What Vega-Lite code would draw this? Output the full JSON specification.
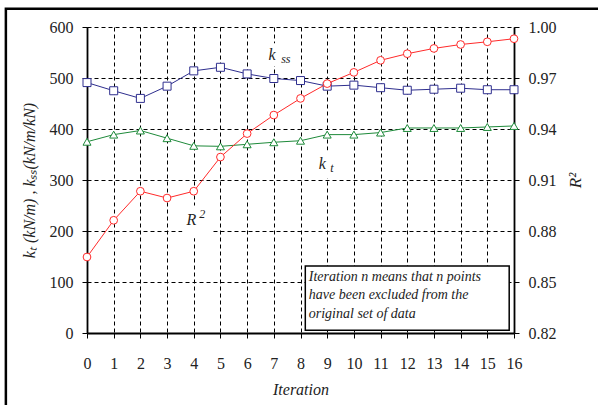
{
  "$schema": "https://vega.github.io/schema/vega-lite/v6.json",
  "width": 427,
  "height": 306,
  "autosize": "none",
  "padding": {"left": 87, "top": 27, "right": 84, "bottom": 72},
  "background": "white",
  "config": {
    "view": {"stroke": null},
    "font": "Liberation Serif, Times New Roman, serif",
    "axis": {
      "labelFont": "Liberation Serif, Times New Roman, serif",
      "labelFontSize": 16,
      "labelColor": "#222",
      "titleFont": "Liberation Serif, Times New Roman, serif",
      "titleFontSize": 16,
      "titleFontStyle": "italic",
      "titleFontWeight": "normal",
      "titleColor": "#222",
      "domainColor": "black",
      "domainWidth": 1.8,
      "tickColor": "black",
      "tickSize": 5,
      "tickWidth": 1,
      "gridColor": "black",
      "gridDash": [4, 3],
      "gridWidth": 1,
      "gridOpacity": 1
    }
  },
  "datasets": {
    "k": [
      {"iteration": 0, "series": "kss", "value": 491},
      {"iteration": 1, "series": "kss", "value": 475},
      {"iteration": 2, "series": "kss", "value": 460},
      {"iteration": 3, "series": "kss", "value": 484},
      {"iteration": 4, "series": "kss", "value": 514},
      {"iteration": 5, "series": "kss", "value": 521},
      {"iteration": 6, "series": "kss", "value": 508},
      {"iteration": 7, "series": "kss", "value": 499},
      {"iteration": 8, "series": "kss", "value": 495},
      {"iteration": 9, "series": "kss", "value": 484},
      {"iteration": 10, "series": "kss", "value": 486},
      {"iteration": 11, "series": "kss", "value": 481},
      {"iteration": 12, "series": "kss", "value": 476},
      {"iteration": 13, "series": "kss", "value": 478},
      {"iteration": 14, "series": "kss", "value": 480},
      {"iteration": 15, "series": "kss", "value": 477},
      {"iteration": 16, "series": "kss", "value": 477},
      {"iteration": 0, "series": "kt", "value": 375},
      {"iteration": 1, "series": "kt", "value": 389},
      {"iteration": 2, "series": "kt", "value": 397},
      {"iteration": 3, "series": "kt", "value": 382},
      {"iteration": 4, "series": "kt", "value": 367},
      {"iteration": 5, "series": "kt", "value": 366},
      {"iteration": 6, "series": "kt", "value": 370},
      {"iteration": 7, "series": "kt", "value": 374},
      {"iteration": 8, "series": "kt", "value": 377},
      {"iteration": 9, "series": "kt", "value": 389},
      {"iteration": 10, "series": "kt", "value": 389},
      {"iteration": 11, "series": "kt", "value": 393},
      {"iteration": 12, "series": "kt", "value": 402},
      {"iteration": 13, "series": "kt", "value": 402},
      {"iteration": 14, "series": "kt", "value": 402},
      {"iteration": 15, "series": "kt", "value": 404},
      {"iteration": 16, "series": "kt", "value": 406}
    ],
    "r2": [
      {"iteration": 0, "r2": 0.8647},
      {"iteration": 1, "r2": 0.8863},
      {"iteration": 2, "r2": 0.9034},
      {"iteration": 3, "r2": 0.8994},
      {"iteration": 4, "r2": 0.9034},
      {"iteration": 5, "r2": 0.9235},
      {"iteration": 6, "r2": 0.9373},
      {"iteration": 7, "r2": 0.9482},
      {"iteration": 8, "r2": 0.958},
      {"iteration": 9, "r2": 0.9667},
      {"iteration": 10, "r2": 0.9733},
      {"iteration": 11, "r2": 0.9804},
      {"iteration": 12, "r2": 0.9843},
      {"iteration": 13, "r2": 0.9874},
      {"iteration": 14, "r2": 0.9897},
      {"iteration": 15, "r2": 0.9913},
      {"iteration": 16, "r2": 0.9931}
    ],
    "blank": [
      {"x1": 6.57, "x2": 7.8, "y1": 523, "y2": 568},
      {"x1": 8.52, "x2": 9.42, "y1": 303, "y2": 358},
      {"x1": 3.57, "x2": 4.66, "y1": 186, "y2": 250}
    ],
    "labels": [
      {"x": 6.93, "y": 546, "t": "k", "s": 16},
      {"x": 7.45, "y": 538, "t": "ss", "s": 12},
      {"x": 8.82, "y": 332, "t": "k", "s": 16},
      {"x": 9.18, "y": 324, "t": "t", "s": 12},
      {"x": 3.91, "y": 221, "t": "R", "s": 16},
      {"x": 4.32, "y": 233, "t": "2", "s": 12}
    ],
    "box": [{"x1": 8.18, "x2": 15.82, "y1": 5.3, "y2": 131.4}],
    "note": [{"x": 8.31, "y": 124, "t": "Iteration n means that n points\nhave been excluded from the\noriginal set of data"}],
    "frame": [{"x1": -3.04, "x2": 21, "y1": -170, "y2": 636}]
  },
  "layer": [
    {
      "layer": [
        {
          "data": {"name": "k"},
          "mark": {"type": "line", "strokeWidth": 1},
          "encoding": {
            "x": {
              "field": "iteration", "type": "quantitative",
              "scale": {"domain": [0, 16], "nice": false},
              "axis": {"title": "Iteration", "values": [0,1,2,3,4,5,6,7,8,9,10,11,12,13,14,15,16], "grid": true, "labelPadding": 17, "titlePadding": 10, "labelFlush": false}
            },
            "y": {
              "field": "value", "type": "quantitative",
              "scale": {"domain": [0, 600], "nice": false},
              "axis": {"title": "kₜ (kN/m) , kₛₛ(kN/m/kN)", "values": [0,100,200,300,400,500,600], "grid": true, "labelPadding": 9, "titlePadding": 12, "labelFlush": false}
            },
            "color": {"field": "series", "type": "nominal", "scale": {"domain": ["kss", "kt"], "range": ["#2e2e8e", "#1e8a3a"]}, "legend": null}
          }
        },
        {
          "data": {"name": "frame"},
          "mark": {"type": "rect", "fill": null, "stroke": "black", "strokeWidth": 2.5, "clip": false},
          "encoding": {
            "x": {"field": "x1", "type": "quantitative", "scale": {"domain": [0, 16], "nice": false}, "axis": {"title": "Iteration", "values": [0,1,2,3,4,5,6,7,8,9,10,11,12,13,14,15,16], "grid": true, "labelPadding": 17, "titlePadding": 10, "labelFlush": false}},
            "x2": {"field": "x2"},
            "y": {"field": "y1", "type": "quantitative", "scale": {"domain": [0, 600], "nice": false}, "axis": {"title": "kₜ (kN/m) , kₛₛ(kN/m/kN)", "values": [0,100,200,300,400,500,600], "grid": true, "labelPadding": 9, "titlePadding": 12, "labelFlush": false}},
            "y2": {"field": "y2"}
          }
        },
        {
          "data": {"name": "blank"},
          "mark": {"type": "rect", "fill": "white", "stroke": null},
          "encoding": {
            "x": {"field": "x1", "type": "quantitative", "scale": {"domain": [0, 16], "nice": false}, "axis": {"title": "Iteration", "values": [0,1,2,3,4,5,6,7,8,9,10,11,12,13,14,15,16], "grid": true, "labelPadding": 17, "titlePadding": 10, "labelFlush": false}},
            "x2": {"field": "x2"},
            "y": {"field": "y1", "type": "quantitative", "scale": {"domain": [0, 600], "nice": false}, "axis": {"title": "kₜ (kN/m) , kₛₛ(kN/m/kN)", "values": [0,100,200,300,400,500,600], "grid": true, "labelPadding": 9, "titlePadding": 12, "labelFlush": false}},
            "y2": {"field": "y2"}
          }
        },
        {
          "data": {"name": "k"},
          "mark": {"type": "point", "filled": true, "fill": "white", "strokeWidth": 1, "opacity": 1, "size": 64},
          "encoding": {
            "x": {"field": "iteration", "type": "quantitative", "scale": {"domain": [0, 16], "nice": false}, "axis": {"title": "Iteration", "values": [0,1,2,3,4,5,6,7,8,9,10,11,12,13,14,15,16], "grid": true, "labelPadding": 17, "titlePadding": 10, "labelFlush": false}},
            "y": {"field": "value", "type": "quantitative", "scale": {"domain": [0, 600], "nice": false}, "axis": {"title": "kₜ (kN/m) , kₛₛ(kN/m/kN)", "values": [0,100,200,300,400,500,600], "grid": true, "labelPadding": 9, "titlePadding": 12, "labelFlush": false}},
            "stroke": {"field": "series", "type": "nominal", "scale": {"domain": ["kss", "kt"], "range": ["#2e2e8e", "#1e8a3a"]}, "legend": null},
            "shape": {"field": "series", "type": "nominal", "scale": {"domain": ["kss", "kt"], "range": ["square", "triangle-up"]}, "legend": null}
          }
        },
        {
          "data": {"name": "labels"},
          "mark": {"type": "text", "fontStyle": "italic", "font": "Liberation Serif, Times New Roman, serif", "color": "#222", "align": "center", "baseline": "middle"},
          "encoding": {
            "x": {"field": "x", "type": "quantitative", "scale": {"domain": [0, 16], "nice": false}, "axis": {"title": "Iteration", "values": [0,1,2,3,4,5,6,7,8,9,10,11,12,13,14,15,16], "grid": true, "labelPadding": 17, "titlePadding": 10, "labelFlush": false}},
            "y": {"field": "y", "type": "quantitative", "scale": {"domain": [0, 600], "nice": false}, "axis": {"title": "kₜ (kN/m) , kₛₛ(kN/m/kN)", "values": [0,100,200,300,400,500,600], "grid": true, "labelPadding": 9, "titlePadding": 12, "labelFlush": false}},
            "text": {"field": "t"},
            "size": {"field": "s", "type": "quantitative", "scale": null, "legend": null}
          }
        },
        {
          "data": {"name": "box"},
          "mark": {"type": "rect", "fill": "white", "stroke": "black", "strokeWidth": 1.5},
          "encoding": {
            "x": {"field": "x1", "type": "quantitative", "scale": {"domain": [0, 16], "nice": false}, "axis": {"title": "Iteration", "values": [0,1,2,3,4,5,6,7,8,9,10,11,12,13,14,15,16], "grid": true, "labelPadding": 17, "titlePadding": 10, "labelFlush": false}},
            "x2": {"field": "x2"},
            "y": {"field": "y1", "type": "quantitative", "scale": {"domain": [0, 600], "nice": false}, "axis": {"title": "kₜ (kN/m) , kₛₛ(kN/m/kN)", "values": [0,100,200,300,400,500,600], "grid": true, "labelPadding": 9, "titlePadding": 12, "labelFlush": false}},
            "y2": {"field": "y2"}
          }
        },
        {
          "data": {"name": "note"},
          "mark": {"type": "text", "fontStyle": "italic", "font": "Liberation Serif, Times New Roman, serif", "fontSize": 14, "color": "#222", "align": "left", "baseline": "top", "lineBreak": "\n", "lineHeight": 18.5},
          "encoding": {
            "x": {"field": "x", "type": "quantitative", "scale": {"domain": [0, 16], "nice": false}, "axis": {"title": "Iteration", "values": [0,1,2,3,4,5,6,7,8,9,10,11,12,13,14,15,16], "grid": true, "labelPadding": 17, "titlePadding": 10, "labelFlush": false}},
            "y": {"field": "y", "type": "quantitative", "scale": {"domain": [0, 600], "nice": false}, "axis": {"title": "kₜ (kN/m) , kₛₛ(kN/m/kN)", "values": [0,100,200,300,400,500,600], "grid": true, "labelPadding": 9, "titlePadding": 12, "labelFlush": false}},
            "text": {"field": "t"}
          }
        }
      ]
    },
    {
      "data": {"name": "r2"},
      "layer": [
        {"mark": {"type": "line", "color": "#ff2a2a", "strokeWidth": 1}},
        {"mark": {"type": "point", "shape": "circle", "filled": true, "fill": "white", "stroke": "#ff2a2a", "strokeWidth": 1, "opacity": 1, "size": 60}}
      ],
      "encoding": {
        "x": {"field": "iteration", "type": "quantitative", "scale": {"domain": [0, 16], "nice": false}, "axis": {"title": "Iteration", "values": [0,1,2,3,4,5,6,7,8,9,10,11,12,13,14,15,16], "grid": true, "labelPadding": 17, "titlePadding": 10, "labelFlush": false}},
        "y": {
          "field": "r2", "type": "quantitative",
          "scale": {"domain": [0.82, 1.0], "nice": false, "zero": false},
          "axis": {"orient": "right", "title": "R²", "titleAngle": 270, "titleFontSize": 17, "values": [0.82,0.85,0.88,0.91,0.94,0.97,1.0], "format": ".2f", "grid": false, "labelPadding": 9, "titlePadding": 28, "labelFlush": false}
        }
      }
    }
  ],
  "resolve": {"scale": {"y": "independent"}}
}
